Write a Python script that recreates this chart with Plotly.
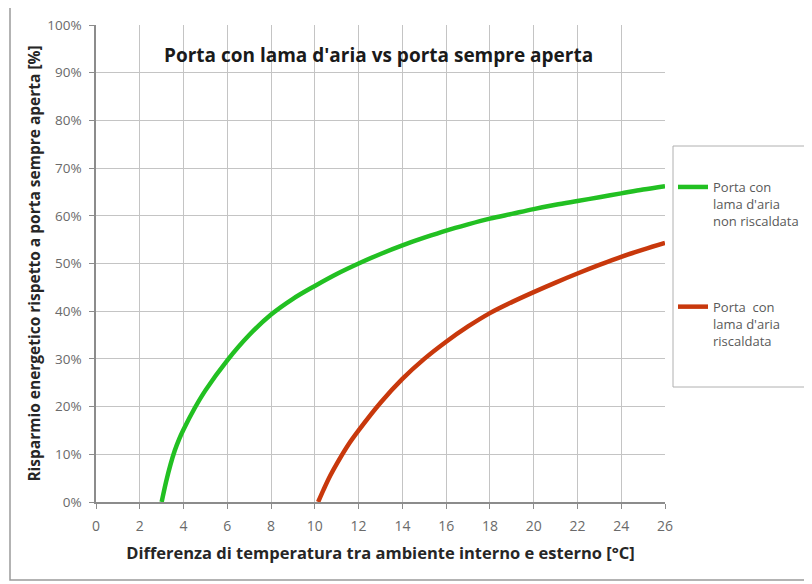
import plotly.graph_objects as go

# Data (x in °C, y as fraction)
x_green = [3.0, 3.2, 3.4, 3.6, 3.8, 4.0, 4.5, 5, 6, 7, 8, 9, 10, 11, 12, 13, 14, 15, 16, 17, 18, 19, 20, 21, 22,
           23, 24, 25, 26]
y_green = [0.0, 0.042, 0.078, 0.108, 0.132, 0.152, 0.196, 0.234, 0.297, 0.35, 0.393, 0.426, 0.453, 0.478, 0.50,
           0.52, 0.538, 0.554, 0.569, 0.582, 0.594, 0.604, 0.614, 0.623, 0.631, 0.639, 0.647, 0.655, 0.662]

x_red = [10.15, 10.4, 10.7, 11, 11.5, 12, 13, 14, 15, 16, 17, 18, 19, 20, 21, 22, 23, 24, 25, 26]
y_red = [0.0, 0.026, 0.055, 0.08, 0.118, 0.15, 0.208, 0.258, 0.30, 0.336, 0.368, 0.396, 0.419, 0.44, 0.46,
         0.479, 0.497, 0.514, 0.529, 0.543]

name_green = "Porta con<br>lama d'aria<br>non riscaldata"
name_red = "Porta  con<br>lama d'aria<br>riscaldata"

title_text = "Porta con lama d'aria vs porta sempre aperta"
x_title = "Differenza di temperatura tra ambiente interno e esterno [°C]"
y_title = "Risparmio energetico rispetto a porta sempre aperta [%]"

x_ticks = list(range(0, 27, 2))
y_ticks = [i / 10 for i in range(0, 11)]

FONT = "Open Sans"
OFF = 8  # page body margin

W, H = 812 - OFF, 584 - OFF
L, R, T, B = 96 - OFF, 665 - OFF, 25 - OFF, 502 - OFF


def px(x):
    return (x - OFF - L) / (R - L)


def py(y):
    return (B - (y - OFF)) / (B - T)


def cx(x):
    return (x - OFF) / W


def cy(y):
    return 1 - (y - OFF) / H


fig = go.Figure()
fig.add_trace(go.Scatter(x=x_green, y=y_green, mode="lines", name=name_green,
                         legendgroup="g", line=dict(color="#22c022", width=4.5, shape="spline", smoothing=1.0)))
fig.add_trace(go.Scatter(x=x_red, y=y_red, mode="lines", name=name_red,
                         legendgroup="r", line=dict(color="#c8380c", width=4.5, shape="spline", smoothing=1.0)))

fig.update_layout(
    width=W, height=H,
    margin=dict(l=L, r=W - R, t=T, b=H - B, autoexpand=False),
    paper_bgcolor="white", plot_bgcolor="white",
    font=dict(family=FONT, color="#595959"),
    showlegend=True,
    legend=dict(xref="container", yref="container", x=cx(673), y=cy(172), xanchor="left", yanchor="top",
                bgcolor="rgba(0,0,0,0)", borderwidth=0,
                font=dict(family=FONT, size=13, color="#595959"),
                valign="top", tracegroupgap=66, itemwidth=30),
    xaxis=dict(range=[0, 26], tickvals=x_ticks, ticks="outside", ticklen=5, automargin=False,
               tickcolor="#8c8c8c", showgrid=True, gridcolor="#c4c4c4", gridwidth=1,
               showline=True, linecolor="#8c8c8c", linewidth=1.5, zeroline=False,
               ticklabelstandoff=5,
               tickfont=dict(family=FONT, size=14, color="#6a6a6a"),
               title=dict(text="<b>" + x_title + "</b>", standoff=14,
                          font=dict(family=FONT, size=16.5, color="#262626"))),
    yaxis=dict(range=[0, 1], tickvals=y_ticks, tickformat=".0%", ticks="outside", ticklen=5, automargin=False,
               tickcolor="#8c8c8c", showgrid=True, gridcolor="#c4c4c4", gridwidth=1,
               showline=True, linecolor="#8c8c8c", linewidth=1.5, zeroline=False,
               ticklabelstandoff=5,
               tickfont=dict(family=FONT, size=13.5, color="#6a6a6a"),
               title=dict(text="<b>" + y_title + "</b>", standoff=3,
                          font=dict(family=FONT, size=15.5, color="#262626"))),
    annotations=[dict(text="<b>" + title_text + "</b>", xref="paper", yref="paper",
                      x=px(378), y=py(55), xanchor="center", yanchor="middle", showarrow=False,
                      font=dict(family=FONT, size=19, color="#1a1a1a"))],
    shapes=[
        # outer chart border
        dict(type="rect", xref="paper", yref="paper", x0=px(10), x1=px(830), y0=py(580), y1=py(7),
             line=dict(color="#9a9a9a", width=1.5), layer="below"),
        # legend box
        dict(type="rect", xref="paper", yref="paper", x0=px(673), x1=px(830), y0=py(387), y1=py(146),
             line=dict(color="#b0b0b0", width=1), layer="below"),
    ],
)

fig.write_html("out.html")
